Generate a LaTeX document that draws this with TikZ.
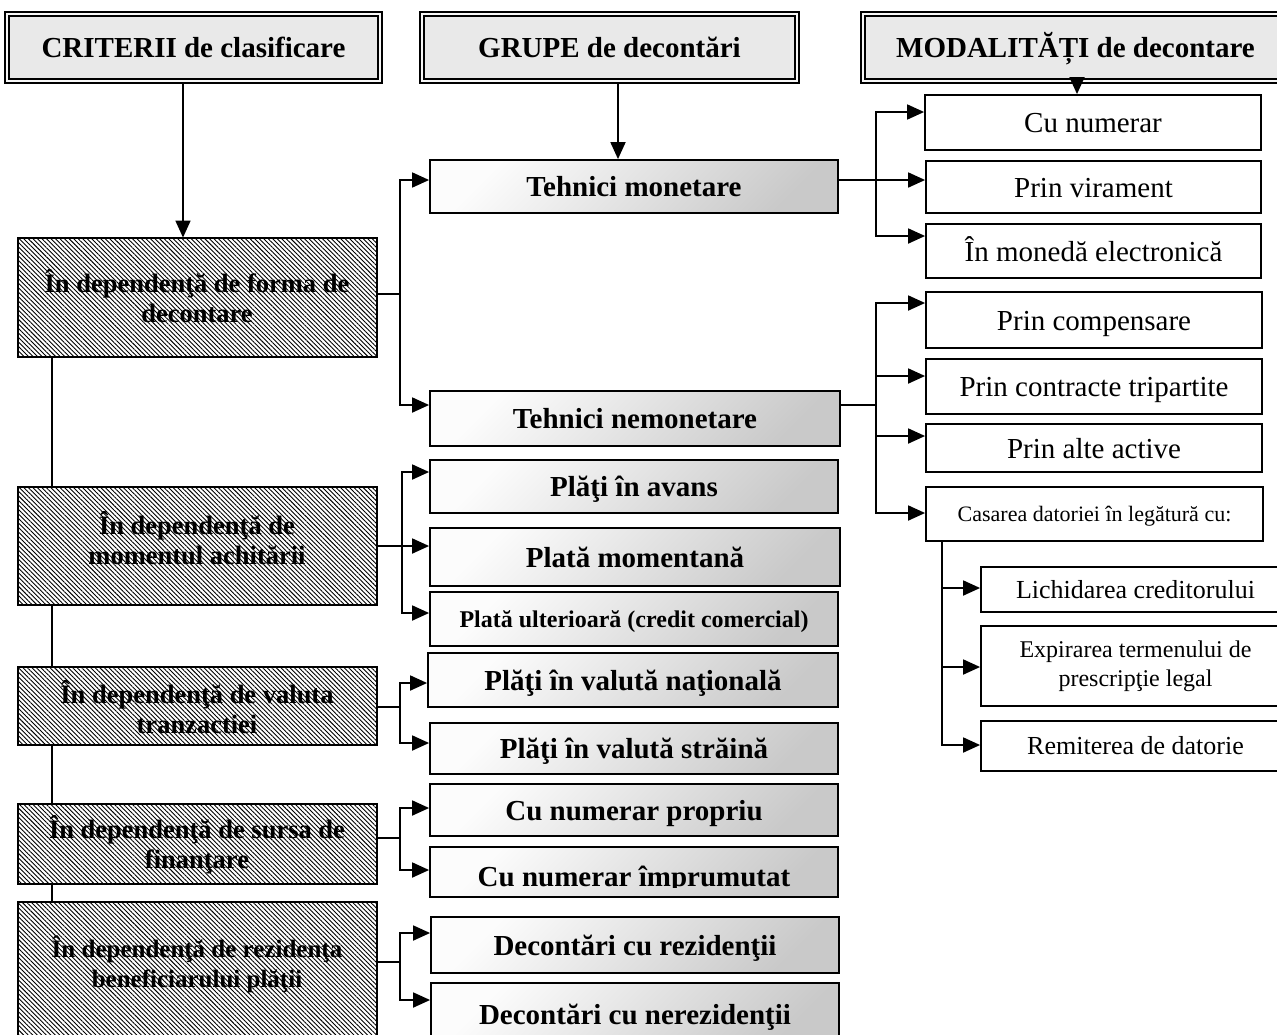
\documentclass[tikz,border=0pt]{standalone}
\usepackage{fontspec}
\setmainfont{Liberation Serif}
\usetikzlibrary{arrows.meta,patterns.meta}

\begin{document}
\begin{tikzpicture}[x=1pt,y=-1pt,
  % a box given by its corners: {x1}{y1}{x2}{y2}
  span/.style n args={4}{minimum width={(#3-(#1))*1pt},
    minimum height={(#4-(#2))*1pt}, at={({((#1)+(#3))/2},{((#2)+(#4))/2})}},
  oneline/.style={text height=24pt, text depth=4pt},
  hdr/.style={draw, line width=2pt, double=gray!6, double distance=2pt,
    fill=gray!17, inner sep=0pt, oneline,
    font=\fontsize{29}{31}\selectfont\bfseries},
  crit/.style={draw, line width=1.8pt,
    pattern={Lines[angle=-45,distance=3.2pt,line width=0.9pt]}, pattern color=black,
    inner sep=0pt},
  crittext/.style={inner sep=0pt, align=center,
    font=\fontsize{26.5}{30}\selectfont\bfseries},
  grp/.style={draw, line width=1.8pt, top color=gray!2, bottom color=gray!42,
    shading angle=45, inner sep=0pt, oneline,
    font=\fontsize{29}{31}\selectfont\bfseries},
  grptext/.style={inner sep=0pt, font=\fontsize{29}{31}\selectfont\bfseries},
  mod/.style={draw, line width=1.8pt, fill=white, inner sep=0pt, align=center,
    font=\fontsize{29}{31}\selectfont},
  link/.style={line width=1.8pt},
  arr/.style={line width=1.8pt, -{Triangle[length=17pt,width=15pt]}}
]
\useasboundingbox (0,0) rectangle (1277,1034);
\fill[white] (0,0) rectangle (1277,1034);
\clip (0,0) rectangle (1277,1034);

% column headers
\node[hdr, span={7}{14}{380}{81}] (h1) {CRITERII de clasificare};
\node[hdr, span={422}{14}{797}{81}] (h2) {GRUPE de decontări};
\node[hdr, span={863}{14}{1288}{81}] (h3) {MODALITĂȚI de decontare};

% classification criteria (hatched)
\node[crit, span={18}{238}{377}{357}] (c1) {};
\node[crittext] (c1t) at (197,296) {În dependenţă de forma de\\decontare};
\node[crit, span={18}{487}{377}{605}] (c2) {};
\node[crittext] (c2t) at (197,538) {În dependenţă de\\momentul achitării};
\node[crit, span={18}{667}{377}{745}] (c3) {};
\node[crittext] (c3t) at (197,707) {În dependenţă de valuta\\tranzactiei};
\node[crit, span={18}{804}{377}{884}] (c4) {};
\node[crittext] (c4t) at (197,845) {În dependenţă de sursa de\\finanţare};
\node[crit, span={18}{902}{377}{1045}] (c5) {};
\node[crittext, font=\fontsize{25}{30}\selectfont\bfseries] (c5t) at (197,964)
  {În dependenţă de rezidenţa\\beneficiarului plăţii};

% settlement groups (shaded)
\node[grp, span={430}{160}{838}{213}] (g1) {Tehnici monetare};
\node[grp, span={430}{391}{840}{446}] (g2) {Tehnici nemonetare};
\node[grp, span={430}{460}{838}{513}] (g3) {Plăţi în avans};
\node[grp, span={430}{528}{840}{586}] (g4) {Plată momentană};
\node[grp, span={430}{592}{838}{646}, text height=20pt, text depth=4pt,
  font=\fontsize{24}{26}\selectfont\bfseries] (g5)
  {Plată ulterioară (credit comercial)};
\node[grp, span={428}{653}{838}{707}] (g6) {Plăţi în valută naţională};
\node[grp, span={430}{723}{838}{774}] (g7) {Plăţi în valută străină};
\node[grp, span={430}{784}{838}{836}] (g8) {Cu numerar propriu};
\node[grp, span={430}{847}{838}{897}] (g9) {};
\begin{scope}
  \clip (430,847) rectangle (838,887);
  \node[grptext, anchor=base] (g9t) at (634,886) {Cu numerar împrumutat};
\end{scope}
\node[grp, span={431}{917}{839}{973}] (g10) {Decontări cu rezidenţii};
\node[grp, span={431}{983}{839}{1045}] (g11) {Decontări cu nerezidenţii};

% settlement modes (white)
\node[mod, oneline, span={925}{95}{1261}{150}] (m1) {Cu numerar};
\node[mod, oneline, span={926}{161}{1261}{213}] (m2) {Prin virament};
\node[mod, oneline, span={926}{224}{1261}{278}] (m3) {În monedă electronică};
\node[mod, oneline, span={926}{292}{1262}{348}] (m4) {Prin compensare};
\node[mod, oneline, span={926}{359}{1262}{414}] (m5) {Prin contracte tripartite};
\node[mod, oneline, span={926}{424}{1262}{472}] (m6) {Prin alte active};
\node[mod, span={926}{487}{1263}{541}, text height=18pt, text depth=3pt,
  font=\fontsize{22}{24}\selectfont] (m7) {Casarea datoriei în legătură cu:};
\node[mod, span={981}{567}{1290}{612}, text height=21pt, text depth=4pt,
  font=\fontsize{26}{28}\selectfont] (m8) {Lichidarea creditorului};
\node[mod, span={981}{626}{1290}{706}, font=\fontsize{24}{29}\selectfont] (m9)
  {Expirarea termenului de\\prescripţie legal};
\node[mod, span={981}{721}{1290}{771}, text height=21pt, text depth=4pt,
  font=\fontsize{26}{28}\selectfont] (m10) {Remiterea de datorie};

% header arrows
\draw[arr] (h1.south -| 183,0) -- (c1.north -| 183,0);
\draw[arr] (h2.south -| 618,0) -- (g1.north -| 618,0);
\draw[arr] (h3.south -| 1077,0) -- (m1.north -| 1077,0);

% spine joining the criteria
\draw[link] (c1.south -| 52,0) -- (c2.north -| 52,0);
\draw[link] (c2.south -| 52,0) -- (c3.north -| 52,0);
\draw[link] (c3.south -| 52,0) -- (c4.north -| 52,0);
\draw[link] (c4.south -| 52,0) -- (c5.north -| 52,0);

% criteria -> groups
\coordinate (f1) at (400,294);
\draw[link] (c1.east |- f1) -- (f1);
\draw[arr] (f1) |- (g1.west |- 0,180);
\draw[arr] (f1) |- (g2.west |- 0,405);

\coordinate (f2) at (402,546);
\draw[link] (c2.east |- f2) -- (f2);
\draw[arr] (f2) |- (g3.west |- 0,472);
\draw[arr] (f2) -- (g4.west |- f2);
\draw[arr] (f2) |- (g5.west |- 0,613);

\coordinate (f3) at (400,707);
\draw[link] (c3.east |- f3) -- (f3);
\draw[arr] (f3) |- (g6.west |- 0,683);
\draw[arr] (f3) |- (g7.west |- 0,743);

\coordinate (f4) at (400,838);
\draw[link] (c4.east |- f4) -- (f4);
\draw[arr] (f4) |- (g8.west |- 0,808);
\draw[arr] (f4) |- (g9.west |- 0,870);

\coordinate (f5) at (400,962);
\draw[link] (c5.east |- f5) -- (f5);
\draw[arr] (f5) |- (g10.west |- 0,933);
\draw[arr] (f5) |- (g11.west |- 0,1000);

% monetary techniques -> modes
\coordinate (fm) at (876,180);
\draw[link] (g1.east |- fm) -- (fm);
\draw[arr] (fm) |- (m1.west |- 0,112);
\draw[arr] (fm) -- (m2.west |- fm);
\draw[arr] (fm) |- (m3.west |- 0,236);

% non-monetary techniques -> modes
\coordinate (fn) at (876,405);
\draw[link] (g2.east |- fn) -- (fn);
\draw[arr] (fn) |- (m4.west |- 0,303);
\draw[arr] (fn) |- (m5.west |- 0,376);
\draw[arr] (fn) |- (m6.west |- 0,436);
\draw[arr] (fn) |- (m7.west |- 0,513);

% debt write-off cases
\coordinate (fc) at (942,0);
\draw[arr] (m7.south -| fc) |- (m10.west |- 0,745);
\draw[arr] (fc |- 0,588) -- (m8.west |- 0,588);
\draw[arr] (fc |- 0,667) -- (m9.west |- 0,667);
\end{tikzpicture}
\end{document}
